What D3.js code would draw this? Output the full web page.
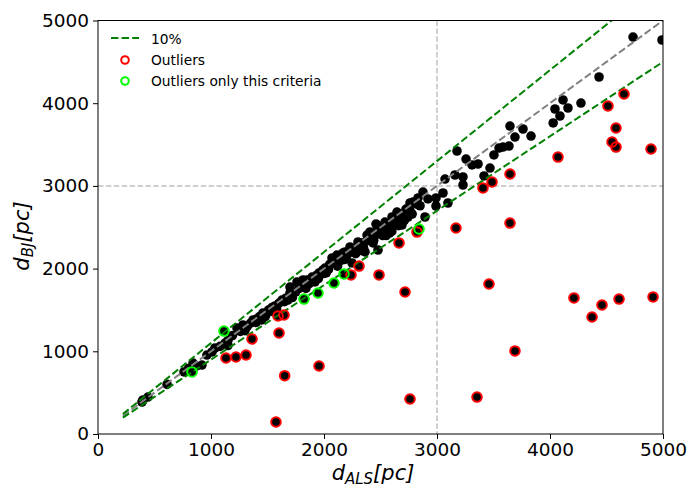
<!DOCTYPE html>
<html><head><meta charset="utf-8">
<script src="https://cdn.jsdelivr.net/npm/d3@7"></script>
<style>body{margin:0;background:#fff;}svg{display:block;font-family:"DejaVu Sans",sans-serif;}</style>
</head><body>
<svg id="c" width="700" height="488"></svg>
<script>
const xTicks = [0,1000,2000,3000,4000,5000];
const yTicks = [0,1000,2000,3000,4000,5000];
const allPoints = [
[389,387],[442,447],[398,411],[611,600],[761,750],[800,790],[841,858],[870,820],[920,834],[964,955],[1009,992],[1035,1040],[1080,1060],[1124,1100],[1150,1130],[1150,1070],[1190,1190],[1230,1282],[1260,1240],[1283,1318],[1300,1250],[1320,1300],[1350,1340],[1372,1379],[1400,1390],[1400,1350],[1430,1420],[1450,1380],[1460,1463],[1490,1450],[1510,1500],[1540,1530],[1550,1480],[1566,1548],[1600,1580],[1628,1620],[1650,1600],[1660,1640],[1699,1705],[1699,1777],[1730,1700],[1750,1720],[1761,1838],[1780,1760],[1800,1780],[1814,1862],[1850,1862],[1870,1820],[1894,1898],[1900,1850],[1938,1923],[1950,1880],[1960,1950],[1991,1983],[2000,1940],[2009,2007],[2040,1990],[2050,2050],[2071,2080],[2071,2128],[2097,2128],[2115,2164],[2120,2030],[2150,2100],[2168,2189],[2186,2201],[2200,2150],[2230,2201],[2230,2261],[2248,2068],[2260,2200],[2292,2261],[2301,2322],[2320,2250],[2345,2310],[2350,2250],[2363,2201],[2370,2330],[2381,2406],[2407,2382],[2407,2443],[2420,2360],[2434,2310],[2434,2430],[2460,2539],[2469,2527],[2478,2225],[2480,2420],[2500,2450],[2520,2500],[2540,2563],[2550,2400],[2560,2480],[2580,2520],[2600,2450],[2602,2624],[2620,2550],[2630,2600],[2646,2684],[2650,2550],[2680,2620],[2690,2527],[2700,2650],[2717,2684],[2726,2720],[2743,2624],[2760,2700],[2761,2793],[2788,2805],[2820,2780],[2832,2854],[2850,2760],[2876,2926],[2894,2624],[2920,2842],[2991,2854],[2991,2757],[3053,2914],[3071,3083],[3097,2793],[3159,3132],[3230,3108],[3230,3011],[3416,3120],[3177,3422],[3257,3325],[3310,3253],[3363,3265],[3469,3216],[3504,3374],[3549,3458],[3584,3470],[3637,3482],[3690,3591],[3646,3724],[3761,3688],[3832,3603],[4028,3761],[4088,3845],[4044,3930],[4159,3942],[4115,4039],[4274,4002],[4434,4317],[4735,4800],[4991,4764],
[1480,1420],[1580,1510],[1680,1620],[1720,1650],[1840,1760],[1920,1840],[2020,1950],[2180,2110],[2280,2180],[2330,2220],[2440,2340],[2520,2400],[2580,2430],[2660,2520],[2710,2580],[2780,2660]
];
const outliers = [
[3168,2491],[3646,2551],[2823,2442],[2664,2310],[2310,2031],[2239,1923],[2487,1923],[2717,1717],[3460,1814],[4212,1645],[4460,1560],[4372,1415],[4611,1632],[4912,1657],[3690,1004],[2761,423],[3354,447],[1575,145],[1652,705],[1956,822],[1602,1221],[1593,1427],[1646,1439],[1363,1149],[1310,955],[1221,931],[1133,919],[3407,2975],[3487,3047],[3646,3144],[4071,3349],[4513,3966],[4655,4111],[4584,3700],[4549,3531],[4584,3470],[4894,3446]
];
const outliersOnly = [[1115,1245],[832,750],[1823,1632],[1947,1705],[2088,1826],[2177,1935],[2841,2479]];
const lineX = [220, 5000];
const ratios = [1.1, 0.9];

const svg = d3.select("#c");
const L=98, R=663, T=20.5, B=434;
const x = d3.scaleLinear().domain([0,5000]).range([L,R]);
const y = d3.scaleLinear().domain([0,5000]).range([B,T]);

svg.append("defs").append("clipPath").attr("id","clip").append("rect")
  .attr("x",L).attr("y",T).attr("width",R-L).attr("height",B-T);
const g = svg.append("g").attr("clip-path","url(#clip)");

g.append("line").attr("x1",x(3000)).attr("x2",x(3000)).attr("y1",T).attr("y2",B)
  .attr("stroke","#c0c0c0").attr("stroke-width",1.5).attr("stroke-dasharray","5.5,2.4");
g.append("line").attr("x1",L).attr("x2",R).attr("y1",y(3000)).attr("y2",y(3000))
  .attr("stroke","#c0c0c0").attr("stroke-width",1.5).attr("stroke-dasharray","5.5,2.4");

const black = allPoints.concat(outliers, outliersOnly);
g.selectAll("circle.b").data(black).enter().append("circle").attr("class","b")
  .attr("cx",d=>x(d[0])).attr("cy",d=>y(d[1])).attr("r",4.8).attr("fill","#000");

const line = d3.line().x(d=>x(d[0])).y(d=>y(d[1]));
g.append("path").attr("d",line(lineX.map(v=>[v,v]))).attr("fill","none")
  .attr("stroke","#808080").attr("stroke-width",2).attr("stroke-dasharray","7.4,3.2");
ratios.forEach(r=>{
  g.append("path").attr("d",line(lineX.map(v=>[v,v*r]))).attr("fill","none")
    .attr("stroke","#008000").attr("stroke-width",2).attr("stroke-dasharray","7.4,3.2");
});

g.selectAll("circle.r").data(outliers).enter().append("circle").attr("class","r")
  .attr("cx",d=>x(d[0])).attr("cy",d=>y(d[1])).attr("r",4.8).attr("fill","none")
  .attr("stroke","#ff0000").attr("stroke-width",2);
g.selectAll("circle.gr").data(outliersOnly).enter().append("circle").attr("class","gr")
  .attr("cx",d=>x(d[0])).attr("cy",d=>y(d[1])).attr("r",4.8).attr("fill","none")
  .attr("stroke","#00ff00").attr("stroke-width",2);

const xa = svg.append("g").attr("transform",`translate(0,${B})`)
  .call(d3.axisBottom(x).tickValues(xTicks).tickFormat(d3.format("d")).tickSize(5).tickPadding(4));
const ya = svg.append("g").attr("transform",`translate(${L},0)`)
  .call(d3.axisLeft(y).tickValues(yTicks).tickFormat(d3.format("d")).tickSize(5).tickPadding(4));
[xa,ya].forEach(a=>{
  a.select(".domain").remove();
  a.selectAll("text").attr("font-size",18.5).attr("font-family","DejaVu Sans").attr("fill","#000");
  a.selectAll("line").attr("stroke","#000").attr("stroke-width",1);
});
svg.append("rect").attr("x",L).attr("y",T).attr("width",R-L).attr("height",B-T)
  .attr("fill","none").attr("stroke","#000").attr("stroke-width",1);

const xl = svg.append("text").attr("x",373).attr("y",480).attr("text-anchor","middle")
  .attr("font-size",21).attr("font-style","italic");
xl.append("tspan").text("d");
xl.append("tspan").attr("font-size",15).attr("dy",4).text("ALS");
xl.append("tspan").attr("dy",-4).text("[pc]");
const yl = svg.append("text").attr("transform",`translate(29,236) rotate(-90)`)
  .attr("text-anchor","middle").attr("font-size",21).attr("font-style","italic");
yl.append("tspan").text("d");
yl.append("tspan").attr("font-size",15).attr("dy",4).text("BJ");
yl.append("tspan").attr("dy",-4).text("[pc]");

const lg = svg.append("g").attr("font-size",13.8);
lg.append("line").attr("x1",111).attr("x2",139).attr("y1",38).attr("y2",38)
  .attr("stroke","#008000").attr("stroke-width",2).attr("stroke-dasharray","7.4,3.2");
lg.append("text").attr("x",151).attr("y",43.5).text("10%");
lg.append("circle").attr("cx",125).attr("cy",60).attr("r",3.8).attr("fill","none").attr("stroke","#ff0000").attr("stroke-width",2);
lg.append("text").attr("x",151).attr("y",64.5).text("Outliers");
lg.append("circle").attr("cx",125).attr("cy",81).attr("r",3.8).attr("fill","none").attr("stroke","#00ff00").attr("stroke-width",2);
lg.append("text").attr("x",151).attr("y",85.5).text("Outliers only this criteria");
</script>
</body></html>
